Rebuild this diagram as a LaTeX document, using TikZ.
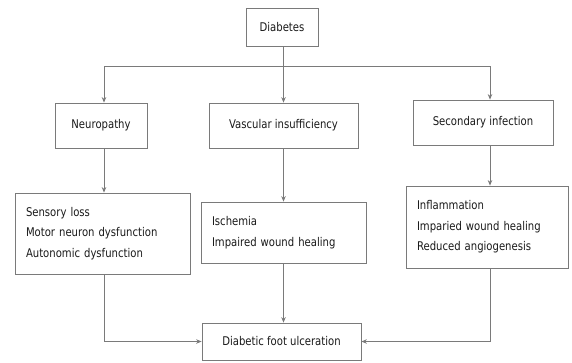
\documentclass[tikz,border=0pt]{standalone}
\usepackage{fontspec}
\setmainfont{DejaVu Sans}[FakeStretch=0.84]
\usetikzlibrary{arrows.meta}
\definecolor{linegray}{HTML}{7A7A7A}
\definecolor{txt}{HTML}{1A1A1A}
\tikzset{
  box/.style={draw=linegray, line width=0.8pt, text=txt, inner ysep=0pt, inner xsep=0pt,
    align=center, font=\fontsize{12}{20.5}\selectfont},
  listbox/.style={draw=linegray, line width=0.8pt, text=txt, inner ysep=0pt, inner xsep=11pt,
    align=left, font=\fontsize{12}{20.5}\selectfont},
  conn/.style={draw=linegray, line width=0.8pt},
  arr/.style={conn, -{Stealth[length=5.5pt,width=4.5pt]}}
}
\begin{document}
\begin{tikzpicture}[x=1pt,y=-1pt]
\useasboundingbox[fill=white] (0,0) rectangle (572,362);
\node[box, minimum width=72pt, minimum height=38pt] (diab) at (282,27) {Diabetes};
\node[box, minimum width=92pt, minimum height=45pt] (neuro) at (101,125.5) {Neuropathy};
\node[box, minimum width=149pt, minimum height=45pt] (vasc) at (283.5,125.5) {Vascular insufficiency};
\node[box, minimum width=140pt, minimum height=45pt] (sec) at (483,122.5) {Secondary infection};
\node[listbox, text width=153pt, minimum height=81pt] (nlist) at (102.5,233.5)
  {Sensory loss\\Motor neuron dysfunction\\Autonomic dysfunction};
\node[listbox, text width=143pt, minimum height=61pt] (vlist) at (283.5,232.5)
  {Ischemia\\Impaired wound healing};
\node[listbox, text width=140pt, minimum height=82pt] (slist) at (487,227)
  {Inflammation\\Imparied wound healing\\Reduced angiogenesis};
\node[box, minimum width=159pt, minimum height=37pt] (foot) at (281.5,341.5) {Diabetic foot ulceration};
\coordinate (hl) at (104,66);
\coordinate (hr) at (490,66);
\draw[conn] (hl) -- (hr);
\draw[arr] (diab.south -| vasc) -- (vasc.north);
\draw[arr] (hl) -- (hl |- neuro.north);
\draw[arr] (hr) -- (hr |- sec.north);
\draw[arr] (hl |- neuro.south) -- (hl |- nlist.north);
\draw[arr] (vasc.south) -- (vasc.south |- vlist.north);
\draw[arr] (hr |- sec.south) -- (hr |- slist.north);
\draw[arr] (vlist.south) -- (vlist.south |- foot.north);
\draw[arr] (hl |- nlist.south) |- (foot.west);
\draw[arr] (hr |- slist.south) |- (foot.east);
\end{tikzpicture}
\end{document}
